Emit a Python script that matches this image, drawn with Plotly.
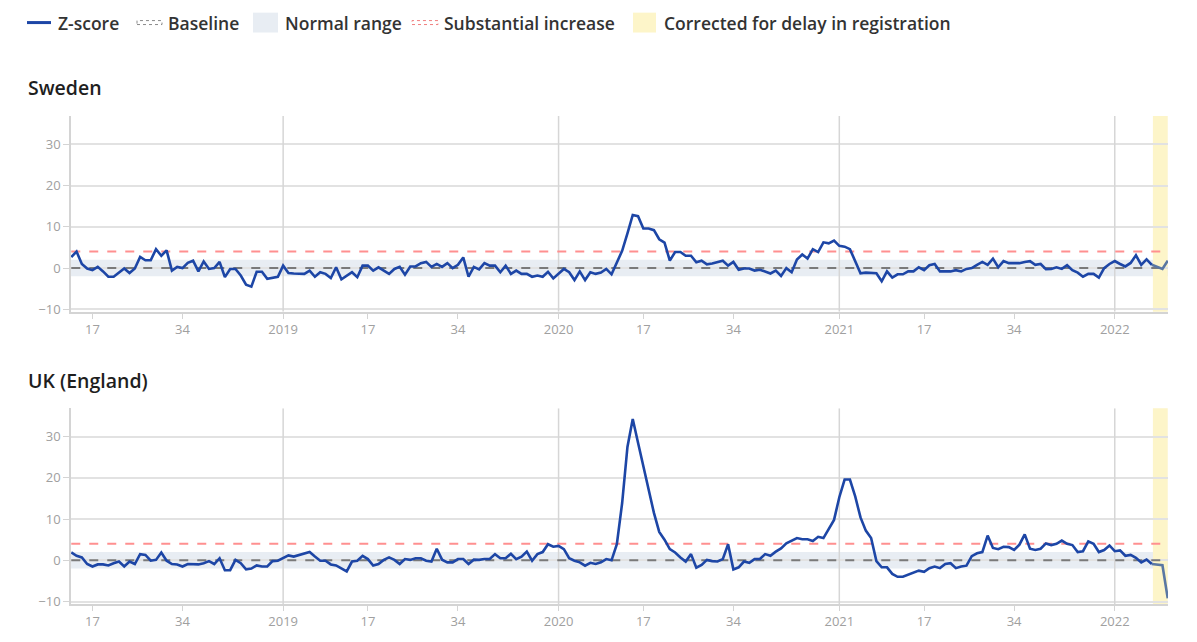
import plotly.graph_objects as go

# ---------------- data ----------------
# ISO weeks from 2018-W13 to 2022-W11
year_weeks = [(2018, 13, 52), (2019, 1, 52), (2020, 1, 53), (2021, 1, 52), (2022, 1, 11)]
week_labels = []
for yr, w_first, w_last in year_weeks:
    for w in range(w_first, w_last + 1):
        week_labels.append(f"{yr}-W{w:02d}")

sweden = [
    2.7, 4.0, 1.0, -0.1, -0.5, 0.3, -0.8, -2.1, -2.1, -1.1,
    -0.1, -1.2, -0.1, 2.7, 1.9, 1.9, 4.6, 3.0, 4.3, -0.6,
    0.3, 0.0, 1.3, 1.8, -0.8, 1.6, -0.2, 0.0, 1.5, -2.2,
    -0.2, -0.2, -1.8, -4.0, -4.5, -0.9, -0.9, -2.6, -2.3, -2.1,
    0.6, -1.2, -1.3, -1.4, -1.4, -0.6, -2.1, -1.0, -1.4, -2.4,
    0.2, -2.7, -1.9, -1.0, -2.2, 0.6, 0.6, -0.6, 0.2, -0.6,
    -1.4, -0.2, 0.3, -1.6, 0.4, 0.4, 1.2, 1.5, 0.3, 1.0,
    0.3, 1.2, 0.0, 0.8, 2.6, -2.1, 0.3, -0.3, 1.2, 0.6,
    0.6, -1.0, 0.6, -1.4, -0.6, -1.4, -1.4, -2.1, -1.8, -2.1,
    -0.9, -2.5, -1.4, -0.2, -1.0, -2.9, -0.8, -2.9, -1.0, -1.4,
    -1.1, -0.2, -1.5, 1.5, 4.2, 8.4, 12.9, 12.6, 9.6, 9.6,
    9.2, 7.0, 6.2, 1.8, 3.9, 3.9, 3.0, 3.0, 1.4, 1.8,
    0.9, 1.1, 1.4, 1.8, 0.6, 1.5, -0.4, -0.1, -0.1, -0.6,
    -0.4, -0.8, -1.3, -0.6, -1.9, 0.0, -1.0, 2.1, 3.3, 2.3,
    4.6, 3.9, 6.25, 6.0, 6.7, 5.4, 5.2, 4.6, 1.7, -1.25,
    -1.1, -1.1, -1.25, -3.2, -0.8, -2.3, -1.5, -1.5, -0.8, -0.8,
    0.2, -0.5, 0.7, 1.0, -0.8, -0.8, -0.8, -0.5, -0.8, -0.2,
    0.0, 0.8, 1.5, 0.8, 2.3, 0.2, 1.7, 1.2, 1.2, 1.2,
    1.5, 1.7, 0.8, 1.0, -0.25, -0.2, 0.2, -0.2, 0.7, -0.5,
    -1.1, -2.1, -1.4, -1.4, -2.3, 0.0, 1.0, 1.7, 1.0, 0.4,
    1.25, 3.1, 0.8, 2.1, 0.8, 0.3, -0.2, 1.8,
]

uk_england = [
    1.9, 1.1, 0.7, -0.9, -1.5, -1.0, -1.0, -1.25, -0.7, -0.3,
    -1.5, -0.3, -0.9, 1.5, 1.3, -0.1, 0.1, 1.9, -0.1, -0.9,
    -1.0, -1.5, -0.9, -1.0, -1.0, -0.7, -0.2, -0.9, 0.5, -2.4,
    -2.4, 0.1, -0.7, -2.2, -2.0, -1.25, -1.5, -1.5, -0.2, -0.1,
    0.5, 1.2, 0.9, 1.25, 1.5, 2.0, 0.9, -0.1, -0.1, -1.0,
    -1.25, -2.0, -2.7, -0.3, -0.1, 1.1, 0.3, -1.25, -0.9, 0.1,
    0.7, 0.1, -0.9, 0.3, 0.1, 0.5, 0.5, -0.1, -0.3, 2.8,
    0.15, -0.5, -0.5, 0.3, 0.3, -0.9, 0.15, 0.1, 0.3, 0.3,
    1.5, 0.5, 0.5, 1.6, 0.3, 0.9, 2.1, -0.1, 1.5, 2.0,
    3.9, 3.3, 3.5, 2.7, 0.5, -0.1, -0.5, -1.3, -0.6, -0.9,
    -0.5, 0.3, 0.0, 3.9, 13.9, 27.5, 34.3, 28.5, 22.7, 17.0,
    11.5, 6.9, 5.0, 2.7, 1.9, 0.7, -0.3, 1.5, -1.8, -1.1,
    0.1, -0.2, -0.3, 0.3, 3.9, -2.2, -1.7, -0.3, -0.6, 0.3,
    0.3, 1.5, 1.1, 2.1, 2.9, 4.1, 4.7, 5.4, 5.1, 5.1,
    4.7, 5.7, 5.4, 7.5, 9.8, 15.3, 19.6, 19.6, 15.5, 10.4,
    7.2, 5.4, -0.2, -1.7, -1.7, -3.3, -4.0, -4.0, -3.5, -3.0,
    -2.5, -2.8, -1.9, -1.5, -1.9, -0.9, -0.7, -1.9, -1.5, -1.3,
    1.0, 1.7, 2.0, 6.0, 3.0, 2.7, 3.3, 3.2, 2.5, 3.8,
    6.3, 2.8, 2.5, 2.8, 4.1, 3.7, 4.0, 4.8, 4.0, 3.7,
    2.0, 2.2, 4.6, 4.0, 2.0, 2.5, 3.6, 2.2, 2.4, 1.1,
    1.3, 0.6, -0.5, 0.2, -0.9, -1.0, -1.2, -9.2,
]

countries = ["Sweden", "UK (England)"]
series = [sweden, uk_england]

baseline_value = 0
normal_low, normal_high = -2, 2
substantial_value = 4
delay_weeks = 3  # last weeks corrected for delay in registration

tick_weeks = [1, 17, 34]
ytick_vals = [-10, 0, 10, 20, 30]
y_range = [-10.6, 36.9]

# ---------------- layout helpers ----------------
W, H = 1197, 642
ML, MR, MT, MB = 71, 29, 116, 35
PW = W - ML - MR
PH = H - MT - MB


def px(x):
    return (x - ML) / PW


def py(y):
    return (H - MB - y) / PH


x_idx = list(range(len(week_labels)))
n = len(x_idx)
band_start = n - 1 - delay_weeks + 0.2
cut = n - 1 - delay_weeks

tickvals, ticktext = [], []
for i, lab in enumerate(week_labels):
    yr, wk = lab.split("-W")
    wk = int(wk)
    if wk in tick_weeks:
        tickvals.append(i)
        ticktext.append(yr if wk == 1 else str(wk))
year_starts = [i for i, lab in enumerate(week_labels) if lab.endswith("-W01")]

BLUE = "#1d46a6"
DIM_BLUE = "#5a77a3"
FONT = "Open Sans"

fig = go.Figure()
axis_names = [("x", "y"), ("x2", "y2")]
domains = [[1 - 197 / PH, 1.0], [0.0, 197 / PH]]

for k, (vals, (xa, ya)) in enumerate(zip(series, axis_names)):
    # year separator lines
    for ys in year_starts:
        fig.add_trace(go.Scatter(
            x=[ys, ys], y=y_range, mode="lines", line=dict(color="#d6d6d6", width=1.5),
            xaxis=xa, yaxis=ya, showlegend=False, hoverinfo="skip"))
    # substantial increase threshold
    fig.add_trace(go.Scatter(
        x=[x_idx[0], x_idx[-1]], y=[substantial_value] * 2, mode="lines",
        line=dict(color="#ff9090", width=2, dash="dash"),
        xaxis=xa, yaxis=ya, showlegend=False, hoverinfo="skip"))
    # baseline
    fig.add_trace(go.Scatter(
        x=[x_idx[0], x_idx[-1]], y=[baseline_value] * 2, mode="lines",
        line=dict(color="#7a7a7a", width=2, dash="dash"),
        xaxis=xa, yaxis=ya, showlegend=False, hoverinfo="skip"))
    # z-score
    fig.add_trace(go.Scatter(
        x=x_idx[:cut + 1], y=vals[:cut + 1], mode="lines",
        line=dict(color=BLUE, width=2.6), xaxis=xa, yaxis=ya,
        showlegend=False, hoverinfo="skip"))
    fig.add_trace(go.Scatter(
        x=x_idx[cut:], y=vals[cut:], mode="lines",
        line=dict(color=DIM_BLUE, width=2.6), xaxis=xa, yaxis=ya,
        showlegend=False, hoverinfo="skip"))

shapes = []
annotations = []
for k, (xa, ya) in enumerate(axis_names):
    shapes.append(dict(type="rect", xref=f"{xa} domain", yref=ya, x0=0, x1=1,
                       y0=normal_low, y1=normal_high, fillcolor="#e8edf3",
                       line=dict(width=0), layer="below"))
    shapes.append(dict(type="rect", xref=xa, yref=f"{ya} domain", x0=band_start,
                       x1=n - 1, y0=0, y1=1, fillcolor="#fdf5c9",
                       line=dict(width=0), layer="below"))

# titles
for name, ypix in zip(countries, [87, 382]):
    annotations.append(dict(text=name, xref="paper", yref="paper", x=px(26), y=py(ypix),
                            xanchor="left", yanchor="middle", showarrow=False,
                            font=dict(family=FONT, size=19.5, color="#1e1e1e", weight=600)))

# custom legend
LY = 22
shapes.append(dict(type="line", xref="paper", yref="paper", x0=px(27), x1=px(51),
                   y0=py(LY), y1=py(LY), line=dict(color=BLUE, width=3)))
shapes.append(dict(type="rect", xref="paper", yref="paper", x0=px(137), x1=px(162),
                   y0=py(LY + 2), y1=py(LY - 2), line=dict(color="#8a8a8a", width=1, dash="dot")))
shapes.append(dict(type="rect", xref="paper", yref="paper", x0=px(253), x1=px(278),
                   y0=py(LY + 10), y1=py(LY - 10), fillcolor="#e8edf3", line=dict(width=0)))
shapes.append(dict(type="rect", xref="paper", yref="paper", x0=px(412), x1=px(438),
                   y0=py(LY + 2), y1=py(LY - 2), line=dict(color="#f07f7f", width=1, dash="dot")))
shapes.append(dict(type="rect", xref="paper", yref="paper", x0=px(633), x1=px(656),
                   y0=py(LY + 10), y1=py(LY - 10), fillcolor="#fdf5c9", line=dict(width=0)))
legend_items = [("Z-score", 58), ("Baseline", 168), ("Normal range", 285),
                ("Substantial increase", 444), ("Corrected for delay in registration", 664)]
for txt, xp in legend_items:
    annotations.append(dict(text=txt, xref="paper", yref="paper", x=px(xp - 2), y=py(LY),
                            xanchor="left", yanchor="middle", showarrow=False,
                            font=dict(family=FONT, size=17.5, color="#333333", weight=600)))

layout = dict(
    width=W, height=H,
    margin=dict(l=ML, r=MR, t=MT, b=MB),
    plot_bgcolor="white", paper_bgcolor="white",
    showlegend=False,
    shapes=shapes, annotations=annotations,
    font=dict(family=FONT),
)
for k, (xa, ya) in enumerate(axis_names):
    xkey = "xaxis" if k == 0 else "xaxis2"
    ykey = "yaxis" if k == 0 else "yaxis2"
    layout[xkey] = dict(
        anchor=ya, domain=[0, 1], range=[-0.05, n - 1 + 0.05],
        tickvals=tickvals, ticktext=ticktext, showgrid=False, zeroline=False,
        showline=True, linecolor="#d4d4d4", linewidth=1.5,
        ticks="outside", ticklen=5, tickcolor="#d4d4d4",
        tickfont=dict(family=FONT, size=13, color="#a0a0a0"))
    layout[ykey] = dict(
        anchor=xa, domain=domains[k], range=y_range,
        tickvals=ytick_vals, showgrid=True, gridcolor="#e2e2e2", gridwidth=1.5,
        zeroline=False, showline=True, linecolor="#d4d4d4", linewidth=1.5,
        ticks="outside", ticklen=6, tickcolor="#d4d4d4",
        tickfont=dict(family=FONT, size=13, color="#a0a0a0"))

fig.update_layout(**layout)
fig.write_html("out.html", config={"displayModeBar": False},
               post_script="document.body.style.margin='0';")
